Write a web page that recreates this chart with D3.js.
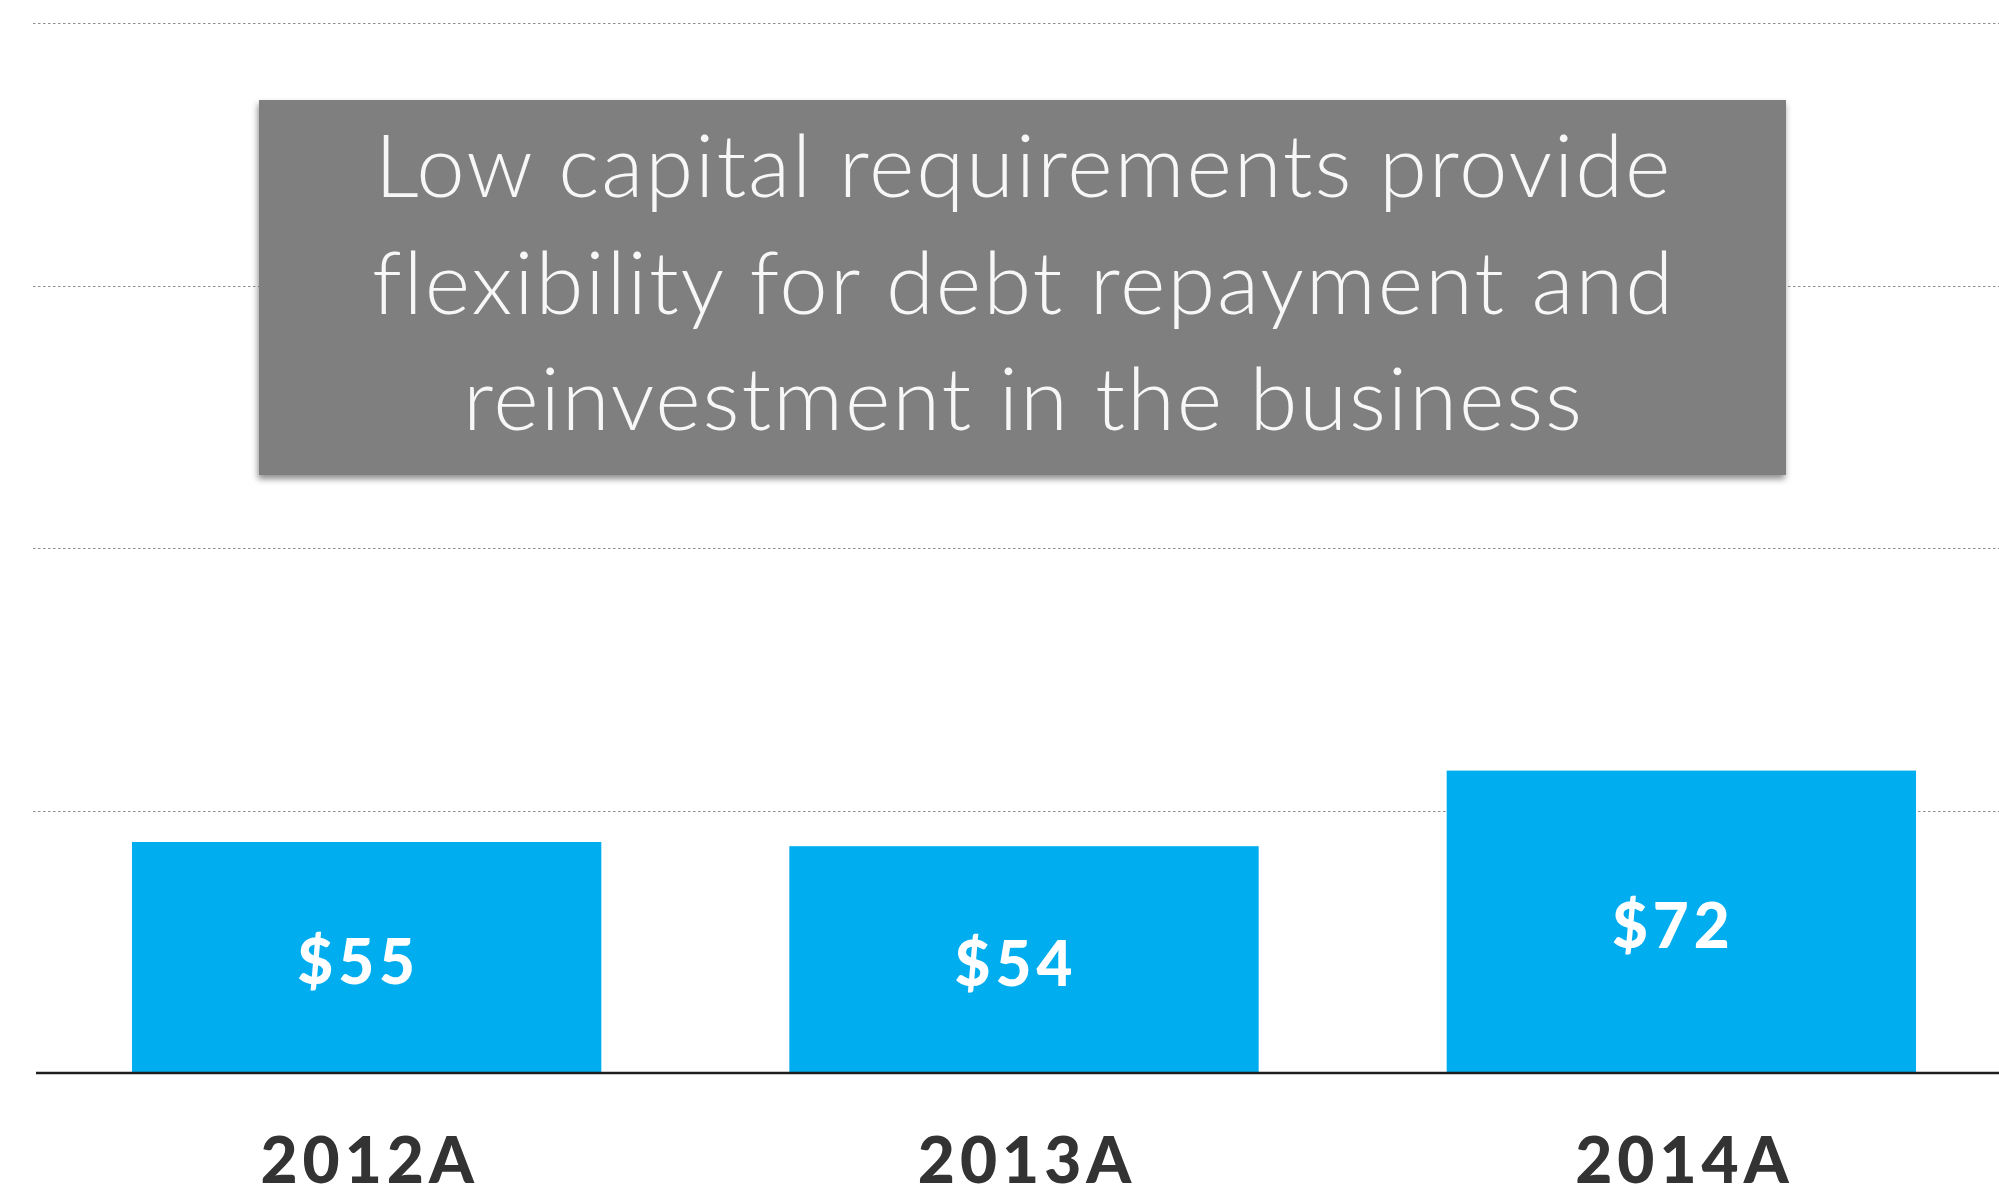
<!DOCTYPE html>
<html>
<head>
<meta charset="utf-8">
<script src="https://cdn.jsdelivr.net/npm/d3@7"></script>
<style>
  html, body { margin: 0; padding: 0; background: #ffffff; }
  svg { display: block; }
</style>
</head>
<body>
<svg id="chart" width="1999" height="1198"></svg>
<script>
// Capital expenditure by year ($ millions)
const categories = ["2012A", "2013A", "2014A"];
const values = [55, 54, 72];
const valueLabels = ["$55", "$54", "$72"];
const gridValues = [62.5, 125, 187.5, 250];
const calloutLines = [
  "Low capital requirements provide",
  "flexibility for debt repayment and",
  "reinvestment in the business"
];

const W = 1999, H = 1198;
const svg = d3.select("#chart");

const y = d3.scaleLinear().domain([0, 250]).range([1073, 23]);
const x = d3.scaleBand()
  .domain(categories)
  .range([36, 2012])
  .paddingInner(0.286)
  .paddingOuter(0.146);

// dotted horizontal gridlines
svg.append("g")
  .selectAll("line")
  .data(gridValues)
  .join("line")
  .attr("x1", 33)
  .attr("x2", W)
  .attr("y1", d => Math.round(y(d)) + 0.5)
  .attr("y2", d => Math.round(y(d)) + 0.5)
  .attr("stroke", "#8f8f8f")
  .attr("stroke-width", 1.2)
  .attr("stroke-dasharray", "2.5,2.5");

// bars
svg.append("g")
  .selectAll("rect")
  .data(values)
  .join("rect")
  .attr("x", (d, i) => x(categories[i]))
  .attr("width", x.bandwidth())
  .attr("y", d => y(d))
  .attr("height", d => y(0) - y(d))
  .attr("fill", "#00adef");

// value labels inside bars
svg.append("g")
  .selectAll("text")
  .data(values)
  .join("text")
  .attr("x", (d, i) => x(categories[i]) + x.bandwidth() / 2 - 8)
  .attr("y", d => (y(d) + y(0)) / 2 + 4)
  .attr("dy", "0.36em")
  .attr("text-anchor", "middle")
  .attr("font-family", "Lato, 'Open Sans', sans-serif")
  .attr("font-weight", 900)
  .attr("font-size", 62)
  .attr("letter-spacing", 5)
  .attr("fill", "#ffffff")
  .text((d, i) => valueLabels[i]);

// baseline
svg.append("line")
  .attr("x1", 36)
  .attr("x2", W)
  .attr("y1", y(0))
  .attr("y2", y(0))
  .attr("stroke", "#1e1e1e")
  .attr("stroke-width", 2.5);

// category axis
const xAxis = svg.append("g")
  .attr("transform", `translate(0,${y(0)})`)
  .call(d3.axisBottom(x).tickSize(0));
xAxis.select(".domain").remove();
xAxis.selectAll("text")
  .attr("y", 110)
  .attr("dy", null)
  .attr("x", 3)
  .attr("font-family", "Lato, 'Open Sans', sans-serif")
  .attr("font-weight", 900)
  .attr("font-size", 64)
  .attr("letter-spacing", 5)
  .attr("fill", "#333333");

// callout box
const defs = svg.append("defs");
const shadow = defs.append("filter")
  .attr("id", "boxShadow")
  .attr("x", "-5%").attr("y", "-10%")
  .attr("width", "110%").attr("height", "125%");
shadow.append("feDropShadow")
  .attr("dx", -1).attr("dy", 4)
  .attr("stdDeviation", 3)
  .attr("flood-color", "#000")
  .attr("flood-opacity", 0.45);

const box = { x: 259, y: 100, w: 1527, h: 375 };
svg.append("rect")
  .attr("x", box.x)
  .attr("y", box.y)
  .attr("width", box.w)
  .attr("height", box.h)
  .attr("fill", "#7f7f7f")
  .attr("filter", "url(#boxShadow)");

const lineBaselines = [197, 314, 430];
svg.append("g")
  .selectAll("text")
  .data(calloutLines)
  .join("text")
  .attr("x", box.x + box.w / 2 + 1)
  .attr("y", (d, i) => lineBaselines[i])
  .attr("text-anchor", "middle")
  .attr("font-family", "Lato, 'Open Sans', sans-serif")
  .attr("font-weight", 300)
  .attr("font-size", 87)
  .attr("letter-spacing", 1.9)
  .attr("fill", "#f7f7f7")
  .text(d => d);
</script>
</body>
</html>
